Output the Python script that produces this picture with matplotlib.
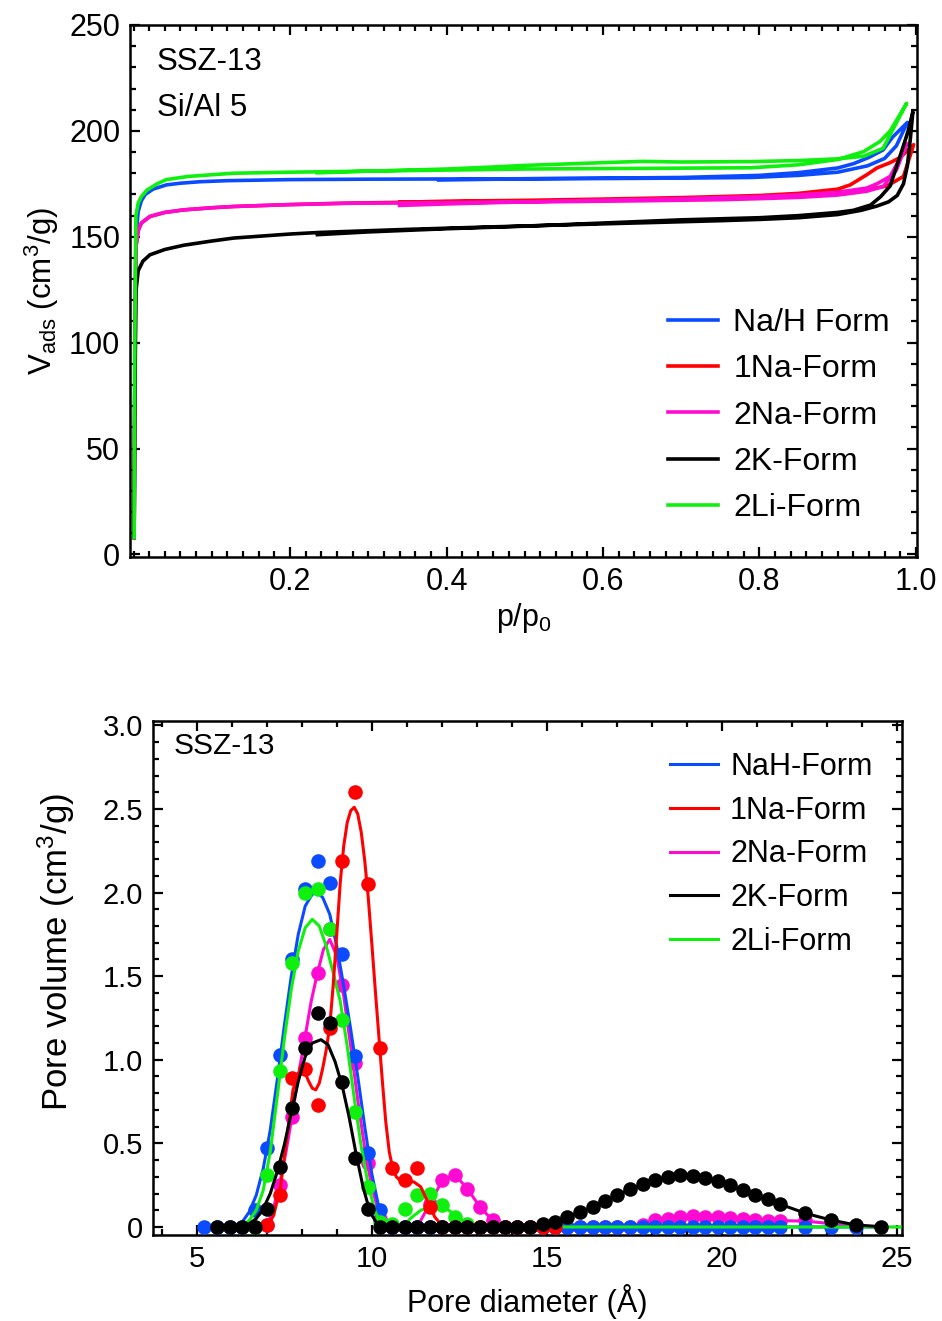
import numpy as np
import matplotlib
matplotlib.use("Agg")
import matplotlib.pyplot as plt
from matplotlib.lines import Line2D
from matplotlib.ticker import MultipleLocator, FixedLocator, FixedFormatter

plt.rcParams['font.family'] = ['Liberation Sans', 'DejaVu Sans']
plt.rcParams['mathtext.default'] = 'regular'

# ---------------- N2 isotherms (top panel) ----------------
iso_labels = ["Na/H Form", "1Na-Form", "2Na-Form", "2K-Form", "2Li-Form"]
colors = ["#0a4bff", "#ff0000", "#ff0ad2", "#000000", "#0ff00f"]

nah_p_ads = [0.0008, 0.0015, 0.003, 0.006, 0.01, 0.015, 0.025, 0.042, 0.06, 0.085, 0.12, 0.2, 0.3, 0.4,
             0.5, 0.6, 0.7, 0.79, 0.85, 0.9, 0.938, 0.96, 0.975, 0.989]
nah_v_ads = [8, 80, 150, 162, 167, 170, 172.5, 174.5, 175.3, 176, 176.5, 177, 177.2, 177.3,
             177.4, 177.5, 177.7, 178, 179, 180.5, 183.5, 187, 193, 204]
nah_p_des = [0.989, 0.97, 0.958, 0.94, 0.92, 0.9, 0.85, 0.8, 0.7, 0.6, 0.5, 0.39]
nah_v_des = [204, 197, 191, 187.5, 184.5, 182.5, 180.3, 179, 178, 177.7, 177.4, 176.8]

na1_p_ads = [0.0008, 0.0015, 0.003, 0.006, 0.01, 0.021, 0.04, 0.064, 0.1, 0.128, 0.2, 0.272, 0.35, 0.45,
             0.55, 0.65, 0.75, 0.8, 0.85, 0.9, 0.94, 0.963, 0.984, 0.997]
na1_v_ads = [8, 70, 145, 153, 156.5, 159.6, 161.5, 162.7, 163.7, 164.3, 165.2, 165.9, 166.3, 166.7,
             167, 167.5, 168.2, 168.8, 169.5, 171, 172.5, 174, 178.5, 193.5]
na1_p_des = [0.997, 0.98, 0.967, 0.95, 0.938, 0.916, 0.9, 0.85, 0.8, 0.7, 0.6, 0.5, 0.4, 0.34]
na1_v_des = [193.5, 187.5, 185, 182.5, 179.5, 174.5, 172.5, 170.5, 169.5, 168.5, 167.8, 167.2, 166.8, 166.3]

na2_p_ads = [0.0008, 0.0015, 0.003, 0.006, 0.01, 0.021, 0.04, 0.064, 0.1, 0.128, 0.2, 0.272, 0.35, 0.45,
             0.55, 0.65, 0.75, 0.8, 0.85, 0.9, 0.937, 0.958, 0.975, 0.988]
na2_v_ads = [8, 70, 145, 153, 156.5, 159.6, 161.5, 162.7, 163.7, 164.3, 165.2, 165.8, 166, 166.3,
             166.6, 167, 167.5, 168, 168.6, 169.7, 171.5, 173.7, 181.5, 194]
na2_p_des = [0.988, 0.983, 0.967, 0.95, 0.937, 0.9, 0.85, 0.8, 0.7, 0.6, 0.5, 0.4, 0.34]
na2_v_des = [194, 189.5, 178.5, 175, 173, 171, 169.8, 169, 168, 167.3, 166.5, 165.5, 164.8]

k2_p_ads = [0.0008, 0.0015, 0.003, 0.006, 0.012, 0.021, 0.04, 0.064, 0.1, 0.128, 0.2, 0.235, 0.272, 0.35,
            0.45, 0.55, 0.65, 0.75, 0.8, 0.85, 0.9, 0.93, 0.95, 0.965, 0.976, 0.984, 0.989, 0.993, 0.996]
k2_v_ads = [8, 60, 124, 134, 138.5, 141.5, 144, 146, 148, 149.4, 151.3, 152, 152.5, 153.5,
            154.6, 155.6, 156.6, 157.6, 158.2, 159, 160.5, 162.5, 164.5, 166.5, 169.5, 175, 183.5, 197, 209]
k2_p_des = [0.996, 0.99, 0.984, 0.975, 0.967, 0.955, 0.942, 0.92, 0.9, 0.85, 0.8, 0.7, 0.6, 0.5,
            0.4, 0.3, 0.235]
k2_v_des = [209, 200, 193, 183, 174, 169, 165, 162.5, 161.5, 160, 159, 158, 156.5, 155,
            153.8, 152.3, 151]

li2_p_ads = [0.0008, 0.0015, 0.003, 0.006, 0.01, 0.017, 0.03, 0.042, 0.07, 0.127, 0.2, 0.3, 0.4, 0.5,
             0.6, 0.7, 0.79, 0.85, 0.9, 0.933, 0.954, 0.967, 0.988]
li2_v_ads = [8, 90, 160, 166, 169, 172, 175, 177, 178.5, 180, 180.5, 181, 181.5, 182,
             182.2, 182.4, 182.6, 184, 186.5, 190.2, 195, 200, 213]
li2_p_des = [0.988, 0.958, 0.933, 0.9, 0.85, 0.79, 0.7, 0.65, 0.6, 0.5, 0.45, 0.4, 0.3, 0.235]
li2_v_des = [213, 191.8, 188, 186.8, 186, 185.5, 185.3, 185.6, 185, 183.7, 182.8, 182, 181, 180.2]

isotherms = [
    (nah_p_ads, nah_v_ads, nah_p_des, nah_v_des),
    (na1_p_ads, na1_v_ads, na1_p_des, na1_v_des),
    (na2_p_ads, na2_v_ads, na2_p_des, na2_v_des),
    (k2_p_ads, k2_v_ads, k2_p_des, k2_v_des),
    (li2_p_ads, li2_v_ads, li2_p_des, li2_v_des),
]

# ---------------- Pore size distributions (bottom panel) ----------------
psd_labels = ["NaH-Form", "1Na-Form", "2Na-Form", "2K-Form", "2Li-Form"]

nah_d = [5.22, 5.58, 5.94, 6.30, 6.66, 7.02, 7.37, 7.73, 8.09, 8.45, 8.80, 9.16, 9.52, 9.88, 10.23,
         10.59, 10.95, 11.30, 11.66, 12.02, 12.38, 12.73, 13.09, 13.45, 13.81, 14.16, 14.52, 14.88,
         15.24, 15.59, 15.95, 16.31, 16.67, 17.02, 17.38, 17.74, 18.10, 18.45, 18.81, 19.17, 19.53,
         19.88, 20.24, 20.60, 20.96, 21.31, 21.67, 22.39, 23.11, 23.83]
nah_v = [0, 0, 0, 0, 0.10, 0.47, 1.03, 1.60, 2.02, 2.19, 2.06, 1.63, 1.02, 0.44, 0.10,
         0, 0, 0, 0, 0, 0, 0, 0, 0, 0, 0, 0, 0,
         0, 0, 0, 0, 0, 0, 0, 0, 0, 0, 0, 0, 0,
         0, 0, 0, 0, 0, 0, 0, 0, 0]
nah_fit_d = [6.10, 6.30, 6.50, 6.70, 6.90, 7.10, 7.30, 7.50, 7.70, 7.90, 8.10, 8.30, 8.45, 8.60,
             8.80, 9.00, 9.20, 9.40, 9.60, 9.80, 10.00, 10.20, 10.40, 10.60, 24.54]
nah_fit_v = [0.00, 0.03, 0.09, 0.19, 0.35, 0.58, 0.88, 1.20, 1.50, 1.75, 1.92, 1.99, 2.00, 1.97,
             1.87, 1.68, 1.44, 1.18, 0.90, 0.60, 0.32, 0.12, 0.03, 0.00, 0.00]

na1_d = [7.02, 7.37, 7.73, 8.09, 8.45, 8.80, 9.16, 9.52, 9.88, 10.23, 10.59, 10.95, 11.30, 11.66,
         12.02, 12.38, 12.73, 13.09, 13.45, 13.81, 14.16, 14.52, 14.88, 15.24]
na1_v = [0.01, 0.19, 0.89, 0.945, 0.73, 1.19, 2.19, 2.60, 2.05, 1.07, 0.35, 0.28, 0.35, 0.12,
         0, 0, 0, 0, 0, 0, 0, 0, 0, 0]
na1_fit_d = [7.00, 7.20, 7.40, 7.60, 7.75, 7.90, 8.00, 8.10, 8.20, 8.30, 8.40, 8.50, 8.60, 8.70,
             8.80, 8.90, 9.00, 9.10, 9.20, 9.30, 9.40, 9.50, 9.60, 9.70, 9.80, 9.90, 10.00, 10.10,
             10.20, 10.30, 10.40, 10.50, 10.60, 10.70, 10.80, 11.00, 11.20, 11.40, 11.60, 11.80,
             12.00, 12.20, 15.24]
na1_fit_v = [0.00, 0.07, 0.25, 0.58, 0.82, 0.92, 0.94, 0.92, 0.87, 0.83, 0.82, 0.86, 0.95, 1.06,
             1.20, 1.45, 1.75, 2.06, 2.28, 2.42, 2.49, 2.51, 2.47, 2.36, 2.19, 1.97, 1.70, 1.42,
             1.15, 0.88, 0.63, 0.45, 0.35, 0.30, 0.28, 0.27, 0.27, 0.24, 0.15, 0.06,
             0.01, 0.00, 0.00]

na2_d = [7.02, 7.37, 7.73, 8.09, 8.45, 8.80, 9.16, 9.52, 9.88, 10.23, 10.59, 10.95, 11.30, 11.66,
         12.02, 12.38, 12.73, 13.09, 13.45, 13.81, 14.16, 14.52, 14.88, 15.24, 15.59, 15.95, 16.31,
         16.67, 17.02, 17.38, 17.74, 18.10, 18.45, 18.81, 19.17, 19.53, 19.88, 20.24, 20.60, 20.96,
         21.31, 21.67, 22.39]
na2_v = [0.01, 0.25, 0.66, 1.13, 1.52, 1.78, 1.45, 0.98, 0.38, 0.05, 0, 0, 0, 0.14,
         0.28, 0.31, 0.23, 0.12, 0.04, 0, 0, 0, 0, 0, 0, 0, 0,
         0, 0, 0, 0.01, 0.04, 0.05, 0.06, 0.065, 0.06, 0.058, 0.052, 0.046, 0.042,
         0.038, 0.038, 0.04]
na2_fit_d = [7.00, 7.20, 7.37, 7.55, 7.73, 7.90, 8.09, 8.27, 8.45, 8.62, 8.80, 9.00, 9.20, 9.40,
             9.60, 9.80, 10.00, 10.20, 10.40, 10.60, 11.30, 11.66, 12.02, 12.38, 12.73, 13.09, 13.45,
             13.81, 17.38, 17.74, 18.10, 18.45, 18.81, 19.17, 19.53, 19.88, 20.24, 20.60, 20.96,
             21.31, 21.67, 22.39, 23.11, 23.83, 24.54]
na2_fit_v = [0.00, 0.12, 0.26, 0.45, 0.67, 0.90, 1.13, 1.35, 1.52, 1.66, 1.72, 1.62, 1.38, 1.08,
             0.76, 0.47, 0.24, 0.09, 0.02, 0.00, 0.00, 0.14, 0.28, 0.31, 0.23, 0.12, 0.04,
             0.00, 0.00, 0.01, 0.04, 0.05, 0.06, 0.065, 0.06, 0.058, 0.052, 0.046, 0.042,
             0.038, 0.038, 0.035, 0.02, 0.005, 0.00]

k2_d = [5.58, 5.94, 6.30, 6.66, 7.02, 7.37, 7.73, 8.09, 8.45, 8.80, 9.16, 9.52, 9.88, 10.23,
        10.59, 10.95, 11.30, 11.66, 12.02, 12.38, 12.73, 13.09, 13.45, 13.81, 14.16, 14.52, 14.88,
        15.24, 15.59, 15.95, 16.31, 16.67, 17.02, 17.38, 17.74, 18.10, 18.45, 18.81, 19.17, 19.53,
        19.88, 20.24, 20.60, 20.96, 21.31, 21.67, 22.39, 23.11, 23.83, 24.54]
k2_v = [0, 0, 0, 0, 0.106, 0.36, 0.71, 1.07, 1.28, 1.22, 0.865, 0.41, 0.11, 0,
        0, 0, 0, 0, 0, 0, 0, 0, 0, 0, 0, 0, 0.015,
        0.03, 0.06, 0.088, 0.12, 0.155, 0.19, 0.225, 0.255, 0.28, 0.297, 0.311, 0.305, 0.29,
        0.275, 0.251, 0.221, 0.191, 0.165, 0.136, 0.082, 0.042, 0.012, 0.002]
k2_fit_d = [6.30, 6.50, 6.70, 6.90, 7.10, 7.30, 7.50, 7.70, 7.90, 8.10, 8.30, 8.55, 8.75, 8.95,
            9.15, 9.35, 9.55, 9.75, 9.95, 10.15, 10.35, 14.52, 14.88, 15.24, 15.59, 15.95, 16.31,
            16.67, 17.02, 17.38, 17.74, 18.10, 18.45, 18.81, 19.17, 19.53, 19.88, 20.24, 20.60,
            20.96, 21.31, 21.67, 22.39, 23.11, 23.83, 24.54]
k2_fit_v = [0.00, 0.02, 0.05, 0.11, 0.20, 0.33, 0.49, 0.68, 0.87, 1.02, 1.10, 1.12, 1.09, 0.99,
            0.85, 0.66, 0.44, 0.24, 0.09, 0.02, 0.00, 0.00, 0.015, 0.03, 0.06, 0.088, 0.12,
            0.155, 0.19, 0.225, 0.255, 0.28, 0.297, 0.311, 0.305, 0.29, 0.275, 0.251, 0.221,
            0.191, 0.165, 0.136, 0.082, 0.042, 0.012, 0.002]

li2_d = [6.66, 7.02, 7.37, 7.73, 8.09, 8.45, 8.80, 9.16, 9.52, 9.88, 10.23, 10.59, 10.95, 11.30,
         11.66, 12.02, 12.38, 12.73]
li2_v = [0, 0.31, 0.93, 1.58, 2.00, 2.02, 1.78, 1.24, 0.69, 0.24, 0.03, 0.02, 0.11, 0.19,
         0.195, 0.13, 0.06, 0.02]
li2_fit_d = [6.30, 6.50, 6.70, 6.90, 7.10, 7.30, 7.50, 7.70, 7.90, 8.10, 8.30, 8.50, 8.70, 8.90,
             9.10, 9.30, 9.50, 9.70, 9.90, 10.10, 10.30, 10.50, 10.70, 10.90, 11.10, 11.40, 11.70,
             12.00, 12.20, 12.40, 12.60, 12.80, 13.10, 25.10]
li2_fit_v = [0.00, 0.04, 0.10, 0.22, 0.45, 0.78, 1.12, 1.42, 1.65, 1.79, 1.84, 1.80, 1.68, 1.52,
             1.35, 1.08, 0.77, 0.48, 0.25, 0.09, 0.01, -0.02, -0.02, 0.00, 0.05, 0.10, 0.12,
             0.12, 0.10, 0.07, 0.04, 0.02, 0.00, 0.00]

psd = [
    (nah_d, nah_v, nah_fit_d, nah_fit_v),
    (na1_d, na1_v, na1_fit_d, na1_fit_v),
    (na2_d, na2_v, na2_fit_d, na2_fit_v),
    (k2_d, k2_v, k2_fit_d, k2_fit_v),
    (li2_d, li2_v, li2_fit_d, li2_fit_v),
]
# stacking order of the series in the lower panel (index -> zorder)
psd_z = [3, 5, 2, 6, 4]

# ---------------- figure ----------------
W, H = 942, 1321
fig = plt.figure(figsize=(W / 100, H / 100), dpi=100)
ax1 = fig.add_axes([130 / W, 1 - 557 / H, (917 - 130) / W, (557 - 25) / H])
ax2 = fig.add_axes([153 / W, 1 - 1235 / H, (902 - 153) / W, (1235 - 721) / H])

TICK_FS_TOP = 22
TICK_FS_BOT = 21

# top panel
for i in range(5):
    pa, va, pd_, vd = isotherms[i]
    ax1.plot(list(pa) + list(pd_), list(va) + list(vd), color=colors[i], lw=2.6,
             solid_joinstyle='round', zorder=2 + i)

ax1.set_xlim(-0.0045, 1.0013)
ax1.set_ylim(-1.2, 250)
ax1.xaxis.set_major_locator(FixedLocator([0.2, 0.4, 0.6, 0.8, 1.0]))
ax1.xaxis.set_major_formatter(FixedFormatter(["0.2", "0.4", "0.6", "0.8", "1.0"]))
ax1.xaxis.set_minor_locator(MultipleLocator(0.02))
ax1.yaxis.set_major_locator(MultipleLocator(50))
ax1.yaxis.set_minor_locator(MultipleLocator(10))
ax1.set_xlabel("p/p$_{0}$", fontsize=22, labelpad=3)
ax1.set_ylabel("V$_{ads}$ (cm$^{3}$/g)", fontsize=22.5, labelpad=6)
ax1.text(0.034, 0.930, "SSZ-13", transform=ax1.transAxes, fontsize=22.5, ha='left', va='center')
ax1.text(0.034, 0.844, "Si/Al 5", transform=ax1.transAxes, fontsize=22.5, ha='left', va='center')

h1 = [Line2D([], [], color=c, lw=2.6) for c in colors]
ax1.legend(h1, iso_labels, loc='upper left', bbox_to_anchor=(0.684, 0.468), frameon=False,
           fontsize=23, handlelength=1.57, handletextpad=0.47, labelspacing=0.51,
           borderpad=0, borderaxespad=0)

# bottom panel
for i in range(5):
    d, v, fd, fv = psd[i]
    z = psd_z[i]
    ax2.plot(d, v, 'o', color=colors[i], ms=10.5, mec='none', zorder=z)
    ax2.plot(fd, fv, '-', color=colors[i], lw=2.2, zorder=z + 0.5)

ax2.set_xlim(3.75, 25.15)
ax2.set_ylim(-0.048, 3.026)
ax2.xaxis.set_major_locator(FixedLocator([5, 10, 15, 20, 25]))
ax2.xaxis.set_minor_locator(MultipleLocator(1))
ax2.yaxis.set_major_locator(FixedLocator([0, 0.5, 1.0, 1.5, 2.0, 2.5, 3.0]))
ax2.yaxis.set_major_formatter(FixedFormatter(["0", "0.5", "1.0", "1.5", "2.0", "2.5", "3.0"]))
ax2.yaxis.set_minor_locator(MultipleLocator(0.1))
ax2.set_xlabel("Pore diameter (Å)", fontsize=22, labelpad=8)
ax2.set_ylabel("Pore volume (cm$^{3}$/g)", fontsize=25, labelpad=8)
ax2.yaxis.set_label_coords(-0.101, 0.55)
ax2.text(0.027, 0.951, "SSZ-13", transform=ax2.transAxes, fontsize=21.5, ha='left', va='center')

h2 = [Line2D([], [], color=c, lw=2.2) for c in colors]
ax2.legend(h2, psd_labels, loc='upper left', bbox_to_anchor=(0.690, 0.940), frameon=False,
           fontsize=22, handlelength=1.57, handletextpad=0.4, labelspacing=0.45,
           borderpad=0, borderaxespad=0)

for ax, fs in ((ax1, TICK_FS_TOP), (ax2, TICK_FS_BOT)):
    for s in ax.spines.values():
        s.set_linewidth(1.8)
    ax.tick_params(which='both', direction='in', top=True, right=True, width=1.6)
    ax.tick_params(which='major', length=7, labelsize=fs, pad=7)
    ax.tick_params(which='minor', length=4)

fig.savefig("out.png", dpi=100)
